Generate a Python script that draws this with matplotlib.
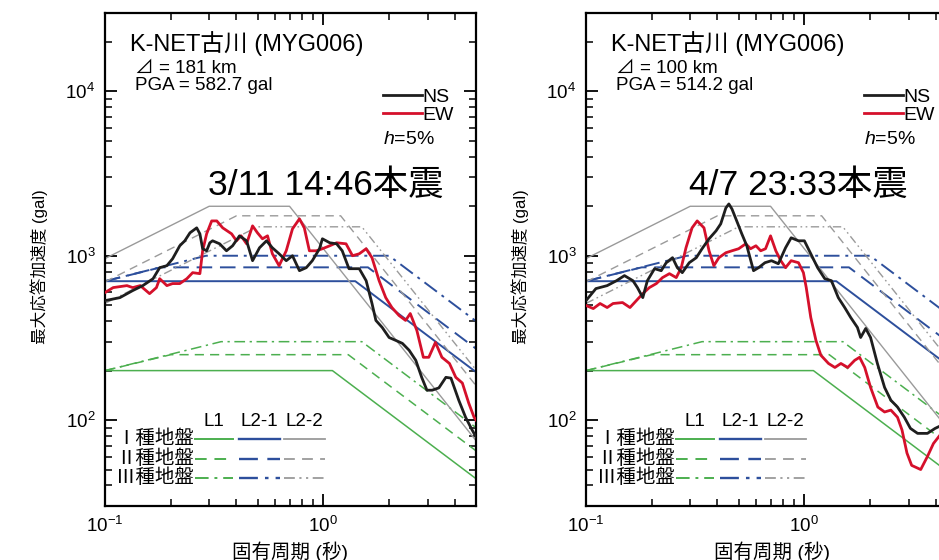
import matplotlib
matplotlib.use('Agg')
import matplotlib.pyplot as plt
from matplotlib.ticker import NullFormatter
from matplotlib.lines import Line2D

plt.rcParams['font.family'] = ['Liberation Sans', 'Noto Sans CJK JP', 'DejaVu Sans']
plt.rcParams['mathtext.fontset'] = 'custom'
plt.rcParams['mathtext.rm'] = 'Liberation Sans'
plt.rcParams['mathtext.it'] = 'Liberation Sans:italic'

station = 'K-NET古川 (MYG006)'
events = ['3/11 14:46本震', '4/7 23:33本震']
distances = ['181', '100']
pgas = ['582.7', '514.2']

# 3/11 main shock, NS / EW (period s, gal)
t_ns_a = [0.1, 0.117, 0.134, 0.149, 0.166, 0.178, 0.192, 0.204, 0.220, 0.232,
          0.245, 0.263, 0.272, 0.280, 0.292, 0.302, 0.311, 0.335, 0.360, 0.384,
          0.413, 0.445, 0.474, 0.510, 0.549, 0.584, 0.627, 0.676, 0.722, 0.777,
          0.835, 0.89, 0.96, 0.99, 1.07, 1.15, 1.22, 1.31, 1.46, 1.57,
          1.67, 1.74, 1.86, 2.0, 2.15, 2.30, 2.47, 2.65, 2.82, 2.98,
          3.15, 3.38, 3.64, 3.84, 4.17, 4.48, 4.8, 5.0]
s_ns_a = [533, 556, 614, 658, 725, 846, 870, 959, 1150, 1233,
          1379, 1478, 1359, 1103, 1072, 1199, 1233, 1182, 1072, 1150,
          1322, 1233, 933, 1118, 1233, 1118, 1028, 933, 1000, 811,
          846, 933, 1103, 1268, 1199, 1182, 1072, 834, 834, 705,
          512, 404, 366, 318, 305, 293, 266, 231, 182, 152,
          152, 157, 182, 180, 132, 104, 87, 79]
t_ew_a = [0.1, 0.109, 0.126, 0.134, 0.145, 0.160, 0.172, 0.178, 0.192, 0.204,
          0.220, 0.237, 0.252, 0.272, 0.280, 0.292, 0.308, 0.325, 0.346, 0.380,
          0.400, 0.420, 0.445, 0.474, 0.499, 0.526, 0.555, 0.584, 0.627, 0.676,
          0.722, 0.777, 0.818, 0.863, 0.928, 0.99, 1.07, 1.15, 1.27, 1.36,
          1.46, 1.57, 1.67, 1.80, 1.93, 2.06, 2.22, 2.38, 2.50, 2.68,
          2.87, 3.04, 3.26, 3.49, 3.78, 4.04, 4.33, 4.63, 4.9, 5.0]
s_ew_a = [597, 640, 658, 640, 658, 588, 640, 725, 658, 677,
          677, 725, 789, 778, 1072, 1359, 1629, 1629, 1478, 1359,
          1233, 1322, 1182, 1520, 1379, 1268, 1322, 1028, 870, 1072,
          1457, 1677, 1478, 1072, 1072, 1103, 1150, 1199, 1182, 1000,
          1028, 1103, 973, 705, 556, 484, 433, 404, 445, 351,
          241, 241, 297, 241, 221, 182, 168, 127, 104, 100]

# 4/7 event, NS / EW
t_ns_b = [0.1, 0.111, 0.125, 0.138, 0.150, 0.164, 0.172, 0.182, 0.191, 0.206,
          0.221, 0.233, 0.249, 0.262, 0.276, 0.297, 0.32, 0.34, 0.366, 0.394,
          0.414, 0.437, 0.451, 0.466, 0.49, 0.517, 0.545, 0.585, 0.617, 0.66,
          0.707, 0.76, 0.82, 0.87, 0.94, 1.0, 1.07, 1.15, 1.24, 1.33,
          1.43, 1.53, 1.63, 1.75, 1.81, 1.91, 2.01, 2.16, 2.33, 2.49,
          2.67, 2.87, 3.06, 3.3, 3.66, 3.97, 4.4, 5.0]
s_ns_b = [533, 631, 658, 705, 757, 705, 640, 556, 705, 834,
          811, 907, 973, 846, 789, 907, 973, 1103, 1268, 1417,
          1563, 1954, 2066, 1926, 1629, 1359, 1150, 811, 846, 907,
          933, 894, 1118, 1286, 1233, 1233, 1028, 846, 725, 705,
          556, 484, 421, 366, 318, 361, 318, 221, 158, 132,
          120, 104, 89, 83, 83, 89, 95, 100]
t_ew_b = [0.1, 0.108, 0.116, 0.125, 0.133, 0.147, 0.159, 0.170, 0.182, 0.195,
          0.210, 0.224, 0.241, 0.259, 0.273, 0.287, 0.306, 0.323, 0.347, 0.366,
          0.385, 0.406, 0.437, 0.466, 0.5, 0.539, 0.567, 0.6, 0.631, 0.664,
          0.7, 0.74, 0.78, 0.82, 0.87, 0.94, 0.99, 1.02, 1.07, 1.13,
          1.19, 1.29, 1.38, 1.47, 1.58, 1.70, 1.79, 1.89, 2.01, 2.17,
          2.33, 2.49, 2.67, 2.8, 2.95, 3.1, 3.41, 3.66, 3.9, 4.3, 5.0]
s_ew_b = [498, 477, 512, 484, 512, 519, 484, 533, 588, 640,
          677, 736, 778, 736, 846, 1118, 1478, 1629, 1478, 1072,
          870, 973, 1043, 1072, 1103, 1182, 1103, 1150, 1072, 1103,
          1322, 1072, 933, 846, 933, 907, 789, 640, 421, 305,
          248, 221, 209, 221, 209, 231, 241, 209, 158, 120,
          112, 115, 104, 87, 63, 53, 50, 60, 72, 85, 95]

# design spectra corner points (period, gal) for ground types I, II, III
level_labels = ['L1', 'L2-1', 'L2-2']
ground_labels = ['Ⅰ種地盤', 'Ⅱ種地盤', 'Ⅲ種地盤']
l1_t = [[0.1, 1.1, 5.0], [0.1, 0.2, 1.3, 5.0], [0.1, 0.34, 1.5, 5.0]]
l1_s = [[200, 200, 44], [200, 250, 250, 65], [200, 300, 300, 90]]
l21_t = [[0.1, 1.4, 5.0], [0.1, 0.18, 1.6, 5.0], [0.1, 0.29, 2.0, 5.0]]
l21_s = [[700, 700, 196], [700, 850, 850, 272], [700, 1000, 1000, 400]]
l22_t = [[0.1, 0.3, 0.7, 5.0], [0.1, 0.4, 1.2, 5.0], [0.1, 0.5, 1.5, 5.0]]
l22_s = [[961, 2000, 2000, 75], [694, 1750, 1750, 162], [513, 1500, 1500, 202]]

spectra = [(l1_t, l1_s), (l21_t, l21_s), (l22_t, l22_s)]
level_colors = ['#4caf4f', '#2d4f9c', '#9a9a9a']
level_widths = [1.1, 1.4, 1.0]
ground_styles = [
    ['-', (0, (6, 4)), (0, (7, 3, 1.5, 3))],
    ['-', (0, (8, 4)), (0, (8, 3, 1.5, 3))],
    ['-', (0, (6, 4)), (0, (6, 2.5, 1.2, 2.5, 1.2, 2.5))],
]

AW, AH = 371.0, 493.0


def pos(dx, dy):
    # offset in pixels from the top-left corner of the axes
    return dx / AW, 1 - dy / AH


def draw_panel(ax, t_ns, s_ns, t_ew, s_ew, event, dist, pga):
    for lvl, (ts, ss) in enumerate(spectra):
        for g in range(3):
            ax.plot(ts[g], ss[g], color=level_colors[lvl], lw=level_widths[lvl],
                    ls=ground_styles[lvl][g], zorder=2)
    ax.plot(t_ns, s_ns, color='#1e1e1e', lw=2.0, zorder=4, label='NS')
    ax.plot(t_ew, s_ew, color='#d5102b', lw=2.0, zorder=3, label='EW')

    ax.set_xscale('log')
    ax.set_yscale('log')
    ax.set_xlim(0.1, 5.0)
    ax.set_ylim(30, 30000)
    ax.xaxis.set_minor_formatter(NullFormatter())
    ax.yaxis.set_minor_formatter(NullFormatter())
    ax.tick_params(which='both', direction='in', top=True, right=True)
    ax.tick_params(which='major', length=8.5, width=1.3, labelsize=13.5, pad=7)
    ax.tick_params(which='minor', length=5, width=1.1)
    for sp in ax.spines.values():
        sp.set_linewidth(1.6)

    ax.set_ylabel('最大応答加速度 (gal)', fontsize=12)
    ax.yaxis.set_label_coords(-57 / AW, 0.485)
    ax.set_xlabel('固有周期 (秒)', fontsize=14)
    ax.xaxis.set_label_coords(0.5, -35 / AH)
    ax.xaxis.label.set_va('top')

    ax.text(*pos(25, 31), station, transform=ax.transAxes, fontsize=17,
            ha='left', va='center')
    ax.text(*pos(30, 55), '⊿ = %s km' % dist, transform=ax.transAxes,
            fontsize=13.5, ha='left', va='center')
    ax.text(*pos(30, 73), 'PGA = %s gal' % pga, transform=ax.transAxes,
            fontsize=13.5, ha='left', va='center')
    ax.text(*pos(103, 172), event, transform=ax.transAxes, fontsize=25.5,
            ha='left', va='center')

    ax.legend(loc='upper left', bbox_to_anchor=pos(278, 75), frameon=False,
              fontsize=14, handlelength=2.0, handletextpad=0.0,
              borderpad=0, borderaxespad=0, labelspacing=0.05)
    ax.text(*pos(278, 126), '$\\it{h}$=5%', transform=ax.transAxes,
            fontsize=14, ha='left', va='center')

    # design spectra key
    col_x = [(90, 128), (134, 175), (179, 220)]
    row_y = [426, 446, 465]
    for c, name in enumerate(level_labels):
        cx = (col_x[c][0] + col_x[c][1]) / 2
        ax.text(*pos(cx, 408), name, transform=ax.transAxes, fontsize=13.5,
                ha='center', va='center')
    for r, gname in enumerate(ground_labels):
        ax.text(*pos(89, row_y[r]), gname, transform=ax.transAxes, fontsize=14,
                ha='right', va='center')
        for c in range(3):
            x0, _ = pos(col_x[c][0], row_y[r])
            x1, y = pos(col_x[c][1], row_y[r])
            ax.add_line(Line2D([x0, x1], [y, y], transform=ax.transAxes,
                               color=level_colors[c], lw=level_widths[c] + 0.3,
                               ls=ground_styles[c][r], clip_on=False))


fig = plt.figure(figsize=(9.39, 5.6), dpi=100)
ax1 = fig.add_axes([105 / 939, 54 / 560, AW / 939, AH / 560])
ax2 = fig.add_axes([586 / 939, 54 / 560, AW / 939, AH / 560])

draw_panel(ax1, t_ns_a, s_ns_a, t_ew_a, s_ew_a, events[0], distances[0], pgas[0])
draw_panel(ax2, t_ns_b, s_ns_b, t_ew_b, s_ew_b, events[1], distances[1], pgas[1])

fig.savefig('out.png', dpi=100)
plt.close(fig)
